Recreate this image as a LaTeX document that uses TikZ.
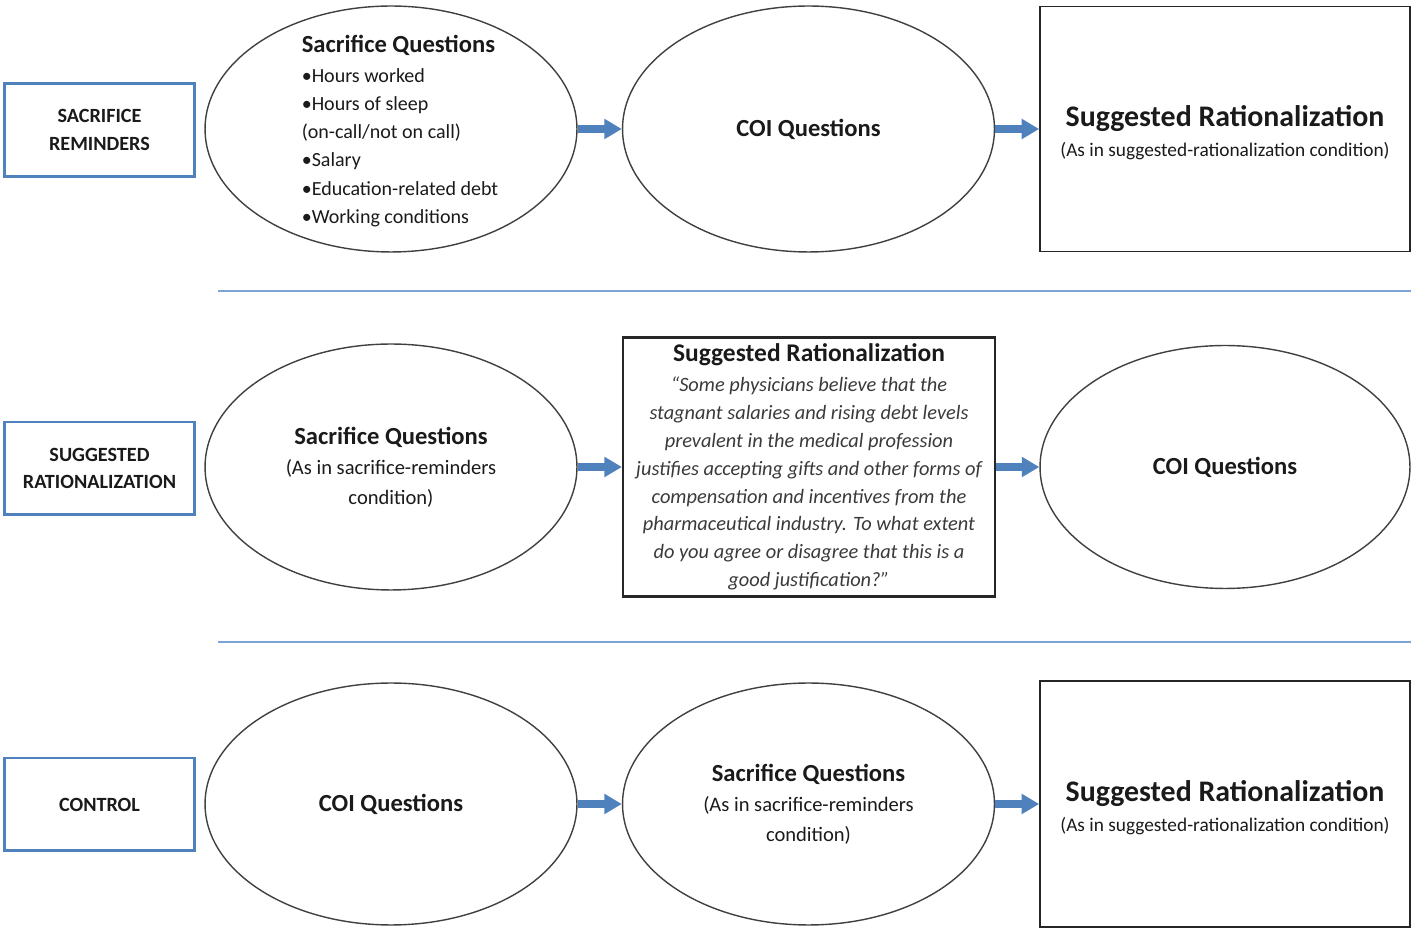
\documentclass[tikz,border=0pt]{standalone}
\usepackage{fontspec}
\setmainfont{Carlito}
\usetikzlibrary{shapes.geometric,arrows.meta}
\definecolor{frame}{HTML}{4F81BD}
\definecolor{rule}{HTML}{7BA3D4}
\definecolor{ink}{HTML}{1A1A1A}
\definecolor{soft}{HTML}{3A3A3A}
\tikzset{cond/.style={draw=frame,line width=1.7pt,minimum width=3.8cm,minimum height=1.86cm,inner sep=0pt,align=center,text=ink,font=\bfseries\fontsize{11.5}{15.5}\selectfont},
  oval/.style={ellipse,draw=black!75,line width=0.8pt,minimum width=7.44cm,minimum height=4.92cm,inner sep=1pt,align=center,text=ink,font=\fontsize{11.7}{17}\selectfont},
  panel/.style={draw=black!85,line width=1pt,minimum width=7.4cm,minimum height=4.9cm,align=center,text=ink,font=\fontsize{11}{16}\selectfont},
  flow/.style={draw=frame,line width=4pt,-{Triangle[length=10pt,width=11pt]}},
  sep/.style={draw=rule,line width=1.2pt}}
\newcommand{\qhead}[1]{{\bfseries\fontsize{14}{16}\selectfont #1}}
\newcommand{\rhead}[1]{\rule{0pt}{16pt}{\bfseries\fontsize{17}{19}\selectfont #1}}

\begin{document}
\begin{tikzpicture}[x=0.02cm, y=-0.02cm]
        \useasboundingbox (0,0) rectangle (1411,928);
        % condition labels
        \node[cond] (sac) at (99.5,130) {SACRIFICE\\REMINDERS};
        \node[cond] (sug) at (99.5,468.5) {SUGGESTED\\RATIONALIZATION};
        \node[cond] (ctl) at (99.5,804.5) {CONTROL};
        % row 1
        \node[oval] (sacQ) at (391,129) {};
        \node[align=left, text=ink, font=\fontsize{11.4}{16}\selectfont] (sacList) at (400,131)
          {\qhead{Sacrifice Questions}\\[1pt] •Hours worked\\ •Hours of sleep\\ (on-call/not on call)\\ •Salary\\ •Education-related debt\\ •Working conditions};
        \node[oval] (coiA) at (808.5,129) {\qhead{COI Questions}};
        \node[panel] (ratA) at (1225,129) {\rhead{Suggested Rationalization}\\[1pt] (As in suggested-rationalization condition)};
        \draw[flow] (sacQ.east) -- (coiA.west);
        \draw[flow] (coiA.east) -- (ratA.west);
        \draw[sep] (218,291) -- (1411,291);
        % row 2
        \node[oval] (sacB) at (391,467) {\qhead{Sacrifice Questions}\\ (As in sacrifice-reminders\\ condition)};
        \node[panel, minimum width=7.44cm, minimum height=5.18cm, line width=1.3pt, inner sep=2pt,
          text=soft, font=\itshape\fontsize{11.6}{15.9}\selectfont] (ratB) at (809,467)
          {\textcolor{ink}{\upshape\bfseries\fontsize{14.5}{16}\selectfont Suggested Rationalization}\\[1pt]
           “Some physicians believe that the\\ stagnant salaries and rising debt levels\\ prevalent in the medical profession\\ justifies accepting gifts and other forms of\\ compensation and incentives from the\\ pharmaceutical industry. To what extent\\ do you agree or disagree that this is a\\ good justification?”};
        \node[oval, minimum width=7.4cm, minimum height=4.86cm] (coiB) at (1225,467) {\qhead{COI Questions}};
        \draw[flow] (sacB.east) -- (ratB.west);
        \draw[flow] (ratB.east) -- (coiB.west);
        \draw[sep] (218,642) -- (1411,642);
        % row 3
        \node[oval, minimum height=4.84cm] (coiC) at (391,804) {\qhead{COI Questions}};
        \node[oval, minimum height=4.84cm] (sacC) at (808.5,804) {\qhead{Sacrifice Questions}\\ (As in sacrifice-reminders\\ condition)};
        \node[panel, minimum height=4.92cm] (ratC) at (1225,804) {\rhead{Suggested Rationalization}\\[1pt] (As in suggested-rationalization condition)};
        \draw[flow] (coiC.east) -- (sacC.west);
        \draw[flow] (sacC.east) -- (ratC.west);
      \end{tikzpicture}
\end{document}
